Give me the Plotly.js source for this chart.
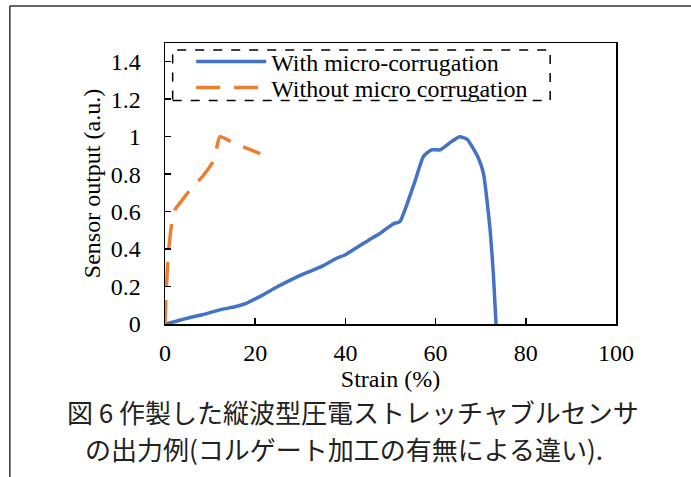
<!DOCTYPE html>
<html>
<head>
<meta charset="utf-8">
<script src="https://cdn.plot.ly/plotly-3.0.1.min.js"></script>
<style>html,body{margin:0;padding:0;background:#fff;}#chart{width:691px;height:477px;}</style>
</head>
<body>
<div id="chart"></div>
<script>
// With micro-corrugation
var withStrain = [0, 2.5, 4.8, 8, 12.6, 15.5, 18, 21, 25, 30, 35, 38, 40, 42, 45, 47.7, 50.6, 52.1, 53.2, 55.4, 57.3, 59.1, 61, 63.2, 65.3, 67, 69.5, 70.6, 71.3, 72.1, 72.8, 73.4];
var withOutput = [0, 0.015, 0.03, 0.048, 0.078, 0.092, 0.11, 0.146, 0.2, 0.26, 0.31, 0.35, 0.37, 0.40, 0.445, 0.484, 0.534, 0.547, 0.609, 0.76, 0.894, 0.93, 0.93, 0.968, 1.0, 0.986, 0.885, 0.805, 0.68, 0.50, 0.27, 0];
// Without micro corrugation
var withoutStrain = [0, 0.22, 0.74, 1.5, 2.2, 4.1, 5.5, 8.4, 10.4, 11.1, 12.2, 15.1, 21.1];
var withoutOutput = [0, 0.146, 0.377, 0.537, 0.61, 0.67, 0.715, 0.79, 0.858, 0.90, 1.0, 0.968, 0.91];

var seriesNames = ["With micro-corrugation", "Without micro corrugation"];
var xTickVals = [0, 20, 40, 60, 80, 100];
var yTickVals = [0, 0.2, 0.4, 0.6, 0.8, 1, 1.2, 1.4];
var captionLines = ["図 6 作製した縦波型圧電ストレッチャブルセンサ", "の出力例(コルゲート加工の有無による違い)."];

var serif = "Liberation Serif, Times New Roman, serif";
var cjk = "Noto Sans CJK JP, sans-serif";

var traces = [
  {x: withStrain, y: withOutput, name: seriesNames[0], mode: "lines", legend: "legend",
   line: {color: "#4472C4", width: 3.5, shape: "spline", smoothing: 0.5}},
  {x: withoutStrain, y: withoutOutput, name: seriesNames[1], mode: "lines", legend: "legend2",
   line: {color: "#ED7D31", width: 3.5, dash: "24px,14px", shape: "spline", smoothing: 0.5}}
];

function legendAt(yPx) {
  return {x: 0.058, y: (324 - yPx) / 281, xanchor: "left", yanchor: "middle",
          bgcolor: "rgba(0,0,0,0)", borderwidth: 0, itemwidth: 70,
          font: {family: serif, size: 24, color: "#000"}};
}

var layout = {
  width: 691, height: 477,
  margin: {l: 165, r: 75, t: 43, b: 153},
  paper_bgcolor: "#fff", plot_bgcolor: "#fff",
  font: {family: serif, size: 24, color: "#000"},
  showlegend: true,
  legend: legendAt(62),
  legend2: legendAt(88),
  xaxis: {range: [0, 100], tickvals: xTickVals, ticks: "inside", ticklen: 6, tickwidth: 1.5,
          tickcolor: "#000", showline: true, linecolor: "#000", linewidth: 1.5, mirror: true,
          showgrid: false, zeroline: false, ticklabelstandoff: 7,
          tickfont: {family: serif, size: 24},
          title: {text: "Strain (%)", font: {family: serif, size: 24}, standoff: 1}},
  yaxis: {range: [0, 1.5], tickvals: yTickVals, ticks: "inside", ticklen: 6, tickwidth: 1.5,
          tickcolor: "#000", showline: true, linecolor: "#000", linewidth: 1.5, mirror: true,
          showgrid: false, zeroline: false, ticklabelstandoff: 18,
          tickfont: {family: serif, size: 24},
          title: {text: "Sensor output (a.u.)", font: {family: serif, size: 24}, standoff: 3}},
  shapes: [
    {type: "rect", xref: "paper", yref: "paper", x0: 0.017, x1: 0.854, y0: 0.795, y1: 0.975,
     line: {color: "#000", width: 1.5, dash: "dash"}},
    {type: "line", xref: "paper", yref: "paper", x0: -0.344, x1: 1.17, y0: 1.1317, y1: 1.1317,
     line: {color: "#333", width: 1.5}},
    {type: "line", xref: "paper", yref: "paper", x0: -0.344, x1: -0.344, y0: 1.1317, y1: -0.56,
     line: {color: "#333", width: 1.5}}
  ],
  annotations: [
    {text: captionLines[0], xref: "paper", yref: "paper", x: (353 - 165) / 451, y: (324 - 412) / 281,
     xanchor: "center", yanchor: "middle", showarrow: false,
     font: {family: cjk, size: 26, color: "#222"}},
    {text: captionLines[1], xref: "paper", yref: "paper", x: (344 - 165) / 451, y: (324 - 448) / 281,
     xanchor: "center", yanchor: "middle", showarrow: false,
     font: {family: cjk, size: 26, color: "#222"}}
  ]
};

Plotly.newPlot("chart", traces, layout, {displayModeBar: false, staticPlot: true});
</script>
</body>
</html>
